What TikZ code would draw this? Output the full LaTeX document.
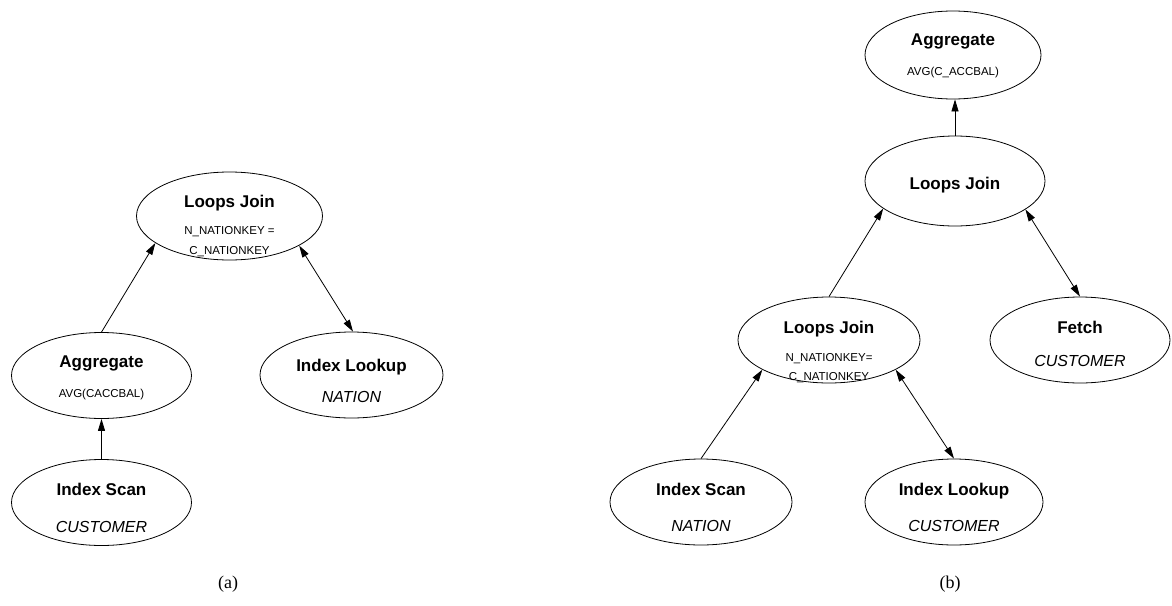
\documentclass[tikz,border=0pt]{standalone}
\usepackage{fontspec}
\setmainfont{Liberation Sans}
\newfontfamily\capfont{Liberation Serif}
\usetikzlibrary{arrows.meta,shapes.geometric}

\tikzset{
  op/.style={draw, ellipse, line width=0.8pt, inner sep=0pt,
             minimum width=180pt, minimum height=86pt},
  ttl/.style={anchor=base, inner sep=0pt, font=\fontsize{17}{20}\selectfont\bfseries},
  sub/.style={anchor=base, inner sep=0pt, font=\fontsize{11.5}{14}\selectfont},
  tbl/.style={anchor=base, inner sep=0pt, font=\fontsize{16}{19}\selectfont\itshape},
  subfig/.style={anchor=base, inner sep=0pt, font=\fontsize{18}{21}\selectfont\capfont},
  flow/.style={line width=0.8pt, -{Triangle[length=12pt,width=7pt]}},
  both/.style={line width=0.8pt, {Triangle[length=12pt,width=7pt]}-{Triangle[length=12pt,width=7pt]}},
}

\begin{document}
\begin{tikzpicture}[x=1pt, y=-1pt]
\useasboundingbox (0,0) rectangle (1172,605);

% ---------- plan (a) ----------
\node[op, minimum width=186pt, minimum height=88pt] (aJoin) at (229.5,216) {};
\node[ttl] (aJoinT) at (229.5,207) {Loops Join};
\node[sub] (aJoinS1) at (229.5,234) {N\_NATIONKEY =};
\node[sub] (aJoinS2) at (229.5,254) {C\_NATIONKEY};

\node[op] (aAgg) at (101.5,375.5) {};
\node[ttl] (aAggT) at (101.5,367) {Aggregate};
\node[sub] (aAggS) at (101.5,397) {AVG(CACCBAL)};

\node[op] (aScan) at (101.5,502.5) {};
\node[ttl] (aScanT) at (101.5,495) {Index Scan};
\node[tbl] (aScanS) at (101.5,532) {CUSTOMER};

\node[op, minimum width=183pt] (aLook) at (351.5,375) {};
\node[ttl] (aLookT) at (351.5,371) {Index Lookup};
\node[tbl] (aLookS) at (351.5,402) {NATION};

\draw[flow] (aAgg.north) -- (aJoin.200);
\draw[flow] (aScan.north) -- (aAgg.south);
\draw[both] (aJoin.337) -- (aLook.88);

\node[subfig] (capA) at (228,588) {(a)};

% ---------- plan (b) ----------
\node[op, minimum width=176pt, minimum height=88pt] (bAgg) at (953,55) {};
\node[ttl] (bAggT) at (953,45) {Aggregate};
\node[sub] (bAggS) at (953,75) {AVG(C\_ACCBAL)};

\node[op, minimum height=90pt] (bJoin) at (955,181) {};
\node[ttl] (bJoinT) at (955,189) {Loops Join};

\node[op, minimum width=182pt] (bJoin2) at (829,340) {};
\node[ttl] (bJoin2T) at (829,333) {Loops Join};
\node[sub] (bJoin2S1) at (829,361) {N\_NATIONKEY=};
\node[sub] (bJoin2S2) at (829,380) {C\_NATIONKEY};

\node[op] (bFetch) at (1080,340) {};
\node[ttl] (bFetchT) at (1080,333) {Fetch};
\node[tbl] (bFetchS) at (1080,366) {CUSTOMER};

\node[op, minimum width=182pt] (bScan) at (701,502) {};
\node[ttl] (bScanT) at (701,495) {Index Scan};
\node[tbl] (bScanS) at (701,531) {NATION};

\node[op, minimum width=178pt] (bLook) at (954,502) {};
\node[ttl] (bLookT) at (954,495) {Index Lookup};
\node[tbl] (bLookS) at (954,531) {CUSTOMER};

\draw[flow] (bJoin.north) -- (bAgg.south -| bJoin.north);
\draw[flow] (bJoin2.north) -- (bJoin.201);
\draw[both] (bJoin.338) -- (bFetch.north);
\draw[flow] (bScan.north) -- (bJoin2.204);
\draw[both] (bJoin2.336) -- (bLook.north);

\node[subfig] (capB) at (950,588) {(b)};
\end{tikzpicture}
\end{document}
